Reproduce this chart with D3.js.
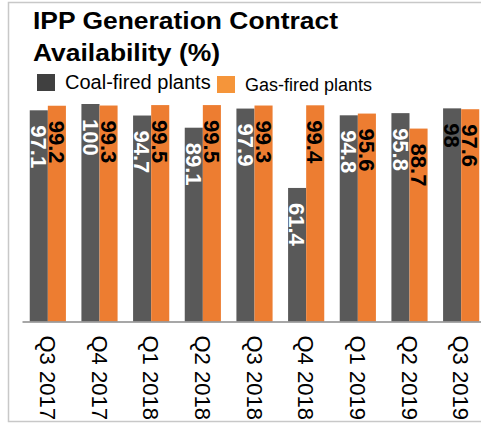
<!DOCTYPE html>
<html>
<head>
<meta charset="utf-8">
<script src="https://cdn.jsdelivr.net/npm/d3@7"></script>
<style>
  html, body { margin: 0; padding: 0; background: #ffffff; }
  svg { display: block; font-family: "Liberation Sans", Arial, Helvetica, sans-serif; }
</style>
</head>
<body>
<svg id="chart" width="481" height="424"></svg>
<script>
// Quarterly availability of IPP generation contracts
const quarters = ["Q3 2017", "Q4 2017", "Q1 2018", "Q2 2018", "Q3 2018", "Q4 2018", "Q1 2019", "Q2 2019", "Q3 2019"];
const coalFired = [97.1, 100, 94.7, 89.1, 97.9, 61.4, 94.8, 95.8, 98];
const gasFired = [99.2, 99.3, 99.5, 99.5, 99.3, 99.4, 95.6, 88.7, 97.6];
const seriesNames = ["Coal-fired plants", "Gas-fired plants"];
const titleLines = ["IPP Generation Contract", "Availability (%)"];

const COAL = "#595959", GAS = "#ED7D31";
const svg = d3.select("#chart");

// outer frame
svg.append("rect")
  .attr("x", 8.5).attr("y", 2.5)
  .attr("width", 490).attr("height", 419)
  .attr("fill", "none").attr("stroke", "#c8c8c8").attr("stroke-width", 1.5);

// title, set in a slightly widened bold face
const title = svg.append("text")
  .attr("transform", "translate(33,0) scale(1.15,1)")
  .attr("font-size", 23).attr("font-weight", "bold").attr("fill", "#000");
titleLines.forEach((t, i) => {
  title.append("tspan").attr("x", 0).attr("y", 29 + i * 32).text(t);
});

// legend
const legend = [
  { name: seriesNames[0], color: "#404040", sx: 37, sy: 74, tx: 65, ty: 88.5, fs: 20 },
  { name: seriesNames[1], color: "#F5953A", sx: 217, sy: 76, tx: 245, ty: 90.5, fs: 18 }
];
legend.forEach(l => {
  svg.append("rect").attr("x", l.sx).attr("y", l.sy).attr("width", 18).attr("height", 17).attr("fill", l.color);
  svg.append("text").attr("x", l.tx).attr("y", l.ty).attr("font-size", l.fs).attr("fill", "#000").text(l.name);
});

// scales
const x = d3.scaleBand().domain(quarters).range([22, 487]).paddingInner(0.3).paddingOuter(0.15);
const sub = d3.scaleBand().domain([0, 1]).range([0, x.bandwidth()]);
const y = d3.scaleLinear().domain([0, 100]).range([321.5, 104]);

const rows = quarters.map((q, i) => ({ q, vals: [coalFired[i], gasFired[i]] }));
const groups = svg.append("g").selectAll("g").data(rows).join("g")
  .attr("transform", d => `translate(${x(d.q)},0)`);

groups.selectAll("rect").data(d => d.vals).join("rect")
  .attr("x", (v, j) => sub(j))
  .attr("y", v => y(v))
  .attr("width", sub.bandwidth())
  .attr("height", v => y(0) - y(v))
  .attr("fill", (v, j) => j === 0 ? COAL : GAS);

// value labels, rotated, inside the top of each bar
groups.each(function (d, i) {
  d3.select(this).selectAll("text.val").data(d.vals).join("text")
    .attr("class", "val")
    .attr("transform", (v, j) => `translate(${sub(j) + sub.bandwidth() / 2},${y(v) + 15}) rotate(90)`)
    .attr("dy", "0.36em")
    .attr("font-size", 22).attr("font-weight", "bold")
    .attr("fill", (v, j) => (j === 0 && i < quarters.length - 1) ? "#ffffff" : "#000000")
    .text(v => d3.format("")(v));
});

// x axis
const xAxis = svg.append("g")
  .attr("transform", `translate(0,${y(0)})`)
  .call(d3.axisBottom(x).tickSize(0).tickPadding(0));
xAxis.select(".domain").attr("stroke", "#8a8a8a").attr("stroke-width", 1.5);
xAxis.selectAll(".tick text")
  .attr("transform", "translate(0,14) rotate(90)")
  .attr("y", 0).attr("dy", "0.36em")
  .attr("text-anchor", "start")
  .attr("font-size", 22).attr("font-family", "Liberation Sans, Arial, sans-serif")
  .attr("fill", "#000");
</script>
</body>
</html>
